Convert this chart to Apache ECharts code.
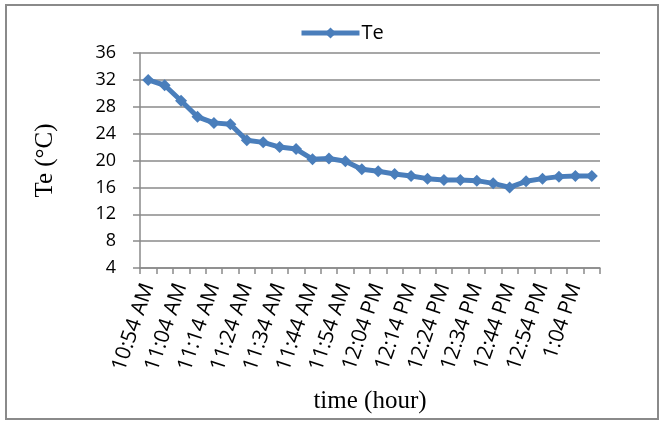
<!DOCTYPE html>
<html>
<head>
<meta charset="utf-8">
<script src="https://cdn.jsdelivr.net/npm/echarts@6/dist/echarts.min.js"></script>
<style>
  html, body { margin: 0; padding: 0; background: #fff; }
  #chart { width: 664px; height: 421px; }
</style>
</head>
<body>
<div id="chart"></div>
<script>
// Sampling times (every 5 minutes) and measured temperature Te in °C
const times = [
  '10:54 AM', '10:59 AM', '11:04 AM', '11:09 AM', '11:14 AM', '11:19 AM', '11:24 AM',
  '11:29 AM', '11:34 AM', '11:39 AM', '11:44 AM', '11:49 AM', '11:54 AM', '11:59 AM',
  '12:04 PM', '12:09 PM', '12:14 PM', '12:19 PM', '12:24 PM', '12:29 PM', '12:34 PM',
  '12:39 PM', '12:44 PM', '12:49 PM', '12:54 PM', '12:59 PM', '1:04 PM', '1:09 PM'
];
const teValues = [
  32.0, 31.2, 28.9, 26.5, 25.6, 25.4, 23.0,
  22.7, 22.0, 21.7, 20.2, 20.3, 19.9, 18.7,
  18.4, 18.0, 17.7, 17.3, 17.1, 17.1, 17.0,
  16.6, 16.0, 16.9, 17.3, 17.6, 17.7, 17.7
];
const yTicks = { min: 4, max: 36, step: 4 };

const axisGray = '#8a8a8a';
const lineBlue = '#4a7ebb';
const sansFont = '"Open Sans", "Liberation Sans", sans-serif';
const serifFont = '"Liberation Serif", "DejaVu Serif", serif';

const chart = echarts.init(document.getElementById('chart'), null, { renderer: 'canvas' });

chart.setOption({
  animation: false,
  backgroundColor: '#fff',
  graphic: [{
    type: 'rect',
    shape: { x: 6, y: 5, width: 652, height: 414 },
    style: { fill: 'none', stroke: axisGray, lineWidth: 2 },
    silent: true
  }],
  legend: {
    top: 18,
    left: 294,
    itemWidth: 58,
    itemHeight: 14,
    itemGap: 4,
    lineStyle: { width: 5 },
    textStyle: { fontFamily: sansFont, fontSize: 20, color: '#000', padding: [0, 0, 0, -3] },
    data: ['Te']
  },
  grid: { left: 140, right: 64, top: 53, bottom: 153 },
  xAxis: {
    type: 'category',
    data: times,
    boundaryGap: true,
    name: 'time (hour)',
    nameLocation: 'middle',
    nameGap: 121,
    nameTextStyle: { fontFamily: serifFont, fontSize: 25, color: '#000' },
    axisLine: { lineStyle: { color: axisGray, width: 1.5 } },
    axisTick: { show: true, interval: 0, length: 6, lineStyle: { color: axisGray, width: 1.5 } },
    axisLabel: {
      interval: 1,
      rotate: 71,
      margin: 16,
      fontFamily: sansFont,
      fontSize: 21,
      color: '#000'
    }
  },
  yAxis: {
    type: 'value',
    min: yTicks.min,
    max: yTicks.max,
    interval: yTicks.step,
    name: 'Te (°C)',
    nameLocation: 'middle',
    nameGap: 82,
    nameTextStyle: { fontFamily: serifFont, fontSize: 25, color: '#000' },
    axisLine: { show: true, lineStyle: { color: axisGray, width: 1.5 } },
    axisTick: { show: true, length: 7, lineStyle: { color: axisGray, width: 1.5 } },
    splitLine: { show: true, lineStyle: { color: axisGray, width: 1.5 } },
    axisLabel: {
      margin: 24,
      fontFamily: sansFont,
      fontSize: 18,
      color: '#000'
    }
  },
  series: [{
    name: 'Te',
    type: 'line',
    data: teValues,
    symbol: 'diamond',
    symbolSize: 12,
    showAllSymbol: true,
    itemStyle: { color: lineBlue },
    lineStyle: { color: lineBlue, width: 5 }
  }]
});
</script>
</body>
</html>
